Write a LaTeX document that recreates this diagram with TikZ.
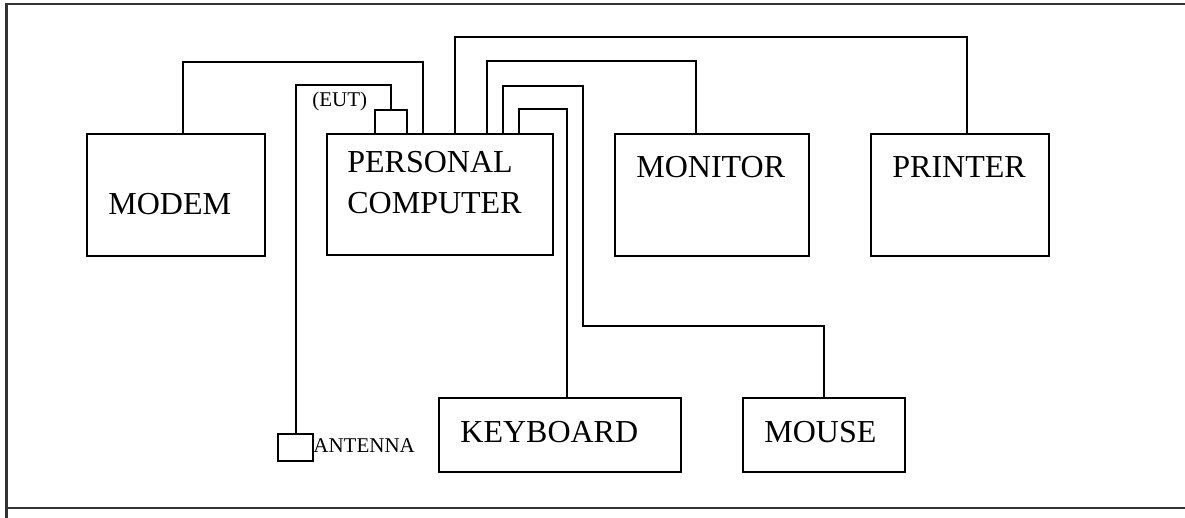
\documentclass[tikz,border=0pt]{standalone}
\usepackage{fontspec}
\setmainfont{Liberation Serif}
\usetikzlibrary{positioning, calc}

\begin{document}
\begin{tikzpicture}[x=0.5pt, y=-0.5pt, line join=miter,
    uredjaj/.style={rectangle, draw=black, line width=1pt, inner sep=0pt},
    natpis/.style={anchor=base west, inner sep=0pt, font=\fontsize{16}{19}\selectfont},
    sitno/.style={anchor=base west, inner sep=0pt, font=\fontsize{10.5}{12}\selectfont},
    kabl/.style={draw=black, line width=1pt},
    okvir/.style={draw=black!80, line width=1.2pt}]

    \useasboundingbox (0,0) rectangle (1185,518);

    % ---------------- okvir ----------------
    \draw [okvir] (6.5,518) -- (6.5,4) -- (1185,4);
    \draw [okvir] (6.5,508) -- (1185,508);

    % ---------------- uredjaji ----------------
    \node (modem) [uredjaj, minimum width=89pt,  minimum height=61pt]   at (176,195)     {};
    \node (pc)    [uredjaj, minimum width=113pt, minimum height=60.5pt] at (440,194.5)   {};
    \node (mon)   [uredjaj, minimum width=97pt,  minimum height=61pt]   at (712,195)     {};
    \node (prn)   [uredjaj, minimum width=89pt,  minimum height=61pt]   at (960,195)     {};
    \node (kbd)   [uredjaj, minimum width=121pt, minimum height=37pt]   at (560,435)     {};
    \node (mis)   [uredjaj, minimum width=81pt,  minimum height=37pt]   at (824,435)     {};
    \node (eut)   [uredjaj, minimum width=16pt,  minimum height=12pt]   at (391,122)     {};
    \node (ant)   [uredjaj, minimum width=17.5pt, minimum height=13.5pt] at (295.5,447.5) {};

    % ---------------- natpisi ----------------
    \node (tmodem) [natpis] at (108,215) {MODEM};
    \node (tpc1)   [natpis] at (347,173) {PERSONAL};
    \node (tpc2)   [natpis] at (347,214) {COMPUTER};
    \node (tmon)   [natpis] at (636,178) {MONITOR};
    \node (tprn)   [natpis] at (892,178) {PRINTER};
    \node (tkbd)   [natpis] at (460,443) {KEYBOARD};
    \node (tmis)   [natpis] at (764,443) {MOUSE};
    \node (teut)   [sitno]  at (312,107) {(EUT)};
    \node (tant)   [sitno]  at (313,453) {ANTENNA};

    % ---------------- kablovi ----------------
    \draw [kabl] ([xshift=3.5pt]modem.north) -- ++(0,-71) -| ([xshift=-8.5pt]pc.north);
    \draw [kabl] ([xshift=7.5pt]pc.north) -- ++(0,-96) -| ([xshift=3.5pt]prn.north);
    \draw [kabl] ([xshift=23.5pt]pc.north) -- ++(0,-72) -| ([xshift=-8pt]mon.north);
    \draw [kabl] ([xshift=31.5pt]pc.north) -- ++(0,-47) -- ++(80,0) -- ++(0,240) -| (mis.north);
    \draw [kabl] ([xshift=39.5pt]pc.north) -- ++(0,-24) -| ([xshift=3.5pt]kbd.north);
    \draw [kabl] (eut.north) -- ++(0,-24) -| (ant.north);
\end{tikzpicture}
\end{document}
